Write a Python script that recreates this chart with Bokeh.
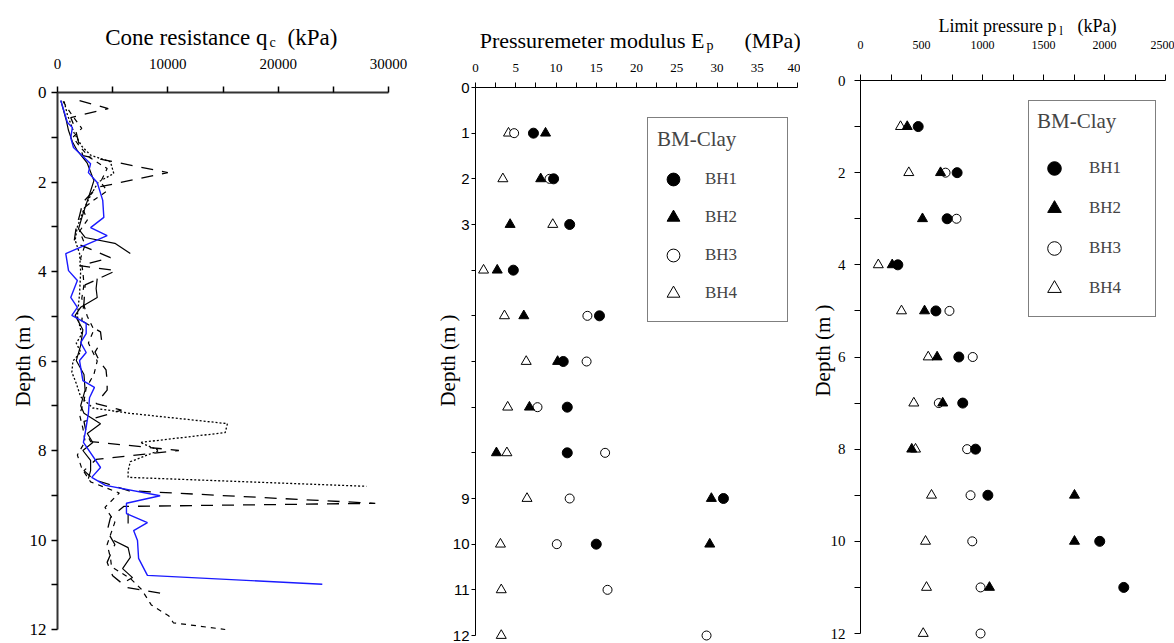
import math
from bokeh.plotting import figure
from bokeh.layouts import row
from bokeh.models import Range1d, FixedTicker, Label, Legend, LegendItem, ColumnDataSource
from bokeh.embed import file_html
from bokeh.resources import INLINE

NaN = float("nan")
SERIF = "Liberation Serif"
SANS = "Liberation Sans"
H = 643

# ---------------- Panel 1 data: CPT cone resistance profiles (kPa vs depth m) -------------
blue_depth = [0.18, 0.67, 0.78, 1.01, 1.23, 1.59, 1.79, 2.01, 2.41, 2.79, 3.02, 3.20, 3.60, 3.98,
              4.20, 4.58, 4.80, 4.98, 5.16, 5.39, 5.59, 5.81, 5.99, 6.44, 6.59, 6.82, 7.17, 7.55,
              7.82, 8.38, 8.60, 8.78, 9.01, 9.18, 9.41, 9.61, 9.79, 10.01, 10.41, 10.79, 10.99]
blue_qc = [300, 900, 1350, 1200, 1450, 3000, 2800, 3600, 4100, 4200, 3000, 4500, 750, 1000,
           1800, 1200, 1800, 1300, 2600, 2600, 2100, 2600, 2000, 2300, 3350, 2900, 2800, 2550,
           2350, 3900, 3100, 4350, 9300, 6250, 6250, 8150, 6900, 7250, 7350, 8150, 24000]

solid_depth = [0.18, 0.63, 0.85, 1.1, 1.3, 1.58, 1.97, 2.2, 2.5, 2.8, 3.05, 3.24, 3.37, 3.60, NaN,
               4.16, 4.38, 4.58, 4.80, 4.98, 5.3, 5.65, 5.99, 6.3, 6.65, 7.0, 7.17, 7.40, 7.62,
               7.82, 8.0, 8.22, 8.45, 8.63, NaN, 9.41, 9.63, NaN, 10.01, 10.17, 10.39, 10.64,
               10.84, 10.91]
solid_qc = [300, 800, 1000, 1350, 1800, 2700, 3300, 3000, 2600, 2200, 1900, 2500, 5200, 6600, NaN,
            3600, 3500, 3600, 2100, 1600, 2300, 2100, 1700, 2400, 2500, 2100, 2400, 3900, 2700,
            3200, 2300, 3000, 3000, 2800, NaN, 6400, 6400, NaN, 5100, 6400, 6600, 5900,
            6800, 6300]

longdash_depth = [0.18, 0.36, 0.56, 0.8, 1.1, 1.41, 1.79, 2.12, 2.45, 2.75, 3.0, 3.35, 3.69, 3.87,
                  3.98, 4.3, 4.7, 5.1, 5.35, 5.55, 5.8, 6.0, 6.2, 6.45, 6.65, 6.95, 7.1, 7.35,
                  7.6, 7.8, 8.0, 8.2, 8.45, 8.65, 8.9, 9.18, 9.25, 9.5, 9.8, 10.1, 10.5, 10.8,
                  11.06, 11.2]
longdash_qc = [2000, 4600, 1200, 1600, 1900, 2300, 10000, 3600, 2300, 2000, 1700, 1500, 4800, 2000,
               5300, 2500, 2400, 2200, 3900, 4000, 3400, 3800, 4400, 4500, 4500, 3500, 5800, 2400,
               2600, 3000, 11000, 3500, 2400, 3300, 6500, 28800, 6000, 4800, 4500, 5200, 4500, 5000,
               6300, 9600]

shortdash_depth = [0.2, 0.5, 0.8, 1.0, 1.2, 1.45, 1.7, 2.0, 2.2, 2.4, 2.6, 2.85, 3.1, 3.4, 3.7,
                   4.0, 4.3, 4.6, 5.0, 5.3, 5.6, 6.0, 6.3, 6.6, 6.9, 7.2, 7.5, 7.8, 8.1, 8.4,
                   8.7, 8.95, 9.27, 9.6, 10.1, 10.4, 10.6, 10.86, 11.1, 11.45, 11.7, 11.85, 12.0]
shortdash_qc = [500, 1300, 2200, 1400, 2000, 2900, 4500, 3900, 4500, 3300, 2300, 2700, 2000, 2500,
                2100, 2300, 2400, 2200, 2700, 3300, 2800, 3600, 3300, 2600, 2400, 2000, 2300,
                2500, 1800, 2200, 3000, 5600, 4300, 5200, 4500, 4800, 4900, 6600, 7600, 8500,
                10100, 10500, 15200]

dotted_depth = [0.2, 0.5, 0.9, 1.2, 1.4, 1.55, 1.81, 2.0, 2.3, 2.6, 3.0, 3.3, 3.6, 4.0, 4.5, 5.0,
                5.4, 5.6, 5.8, 6.0, 6.25, 6.5, 6.8, 7.05, 7.17, 7.4, 7.6, 7.82, 8.0, 8.25, 8.45,
                8.6, 8.8]
dotted_qc = [600, 900, 1500, 2200, 3000, 4800, 5100, 3700, 3000, 2400, 1800, 1600, 2000, 2100,
             2000, 1800, 2200, 1700, 2100, 1400, 1300, 1700, 2100, 3200, 6600, 15400, 15200,
             7500, 9200, 6600, 6400, 6400, 28000]

# ---------------- Panels 2 & 3 data: pressuremeter tests ------------------------------------
pm_depth = [1, 2, 3, 4, 5, 6, 7, 8, 9, 10, 11, 12]
boreholes = ["BH1", "BH2", "BH3", "BH4"]
Ep_BH1 = [7.2, 9.7, 11.7, 4.7, 15.4, 10.9, 11.4, 11.4, 30.8, 15.0, NaN, NaN]
Ep_BH2 = [8.7, 8.1, 4.3, 2.7, 6.0, 10.2, 6.7, 2.6, 29.3, 29.1, NaN, NaN]
Ep_BH3 = [4.8, 9.2, NaN, NaN, 13.9, 13.8, 7.7, 16.1, 11.7, 10.1, 16.4, 28.7]
Ep_BH4 = [4.1, 3.4, 9.6, 1.0, 3.6, 6.3, 4.0, 3.9, 6.4, 3.1, 3.2, 3.2]

pl_BH1 = [473, 792, 710, 306, 618, 806, 838, 943, 1044, 1961, 2158, NaN]
pl_BH2 = [383, 656, 508, 260, 525, 628, 674, 420, 1754, 1754, 1057, NaN]
pl_BH3 = [NaN, 697, 787, NaN, 729, 920, 642, 874, 902, 916, 984, 984]
pl_BH4 = [328, 396, NaN, 146, 336, 555, 437, 451, 582, 533, 541, 514]

qc_ticks = [0, 10000, 20000, 30000]
qc_minor = [5000, 15000, 25000]
ep_ticks = [0, 5, 10, 15, 20, 25, 30, 35, 40]
ep_minor = [2.5, 7.5, 12.5, 17.5, 22.5, 27.5, 32.5, 37.5]
pl_ticks = [0, 500, 1000, 1500, 2000, 2500]
pl_minor = [250, 750, 1250, 1750, 2250]
depth_ticks_even = [0, 2, 4, 6, 8, 10, 12]
depth_ticks_odd = [1, 3, 5, 7, 9, 11]
ep_depth_labeled = [0, 1, 2, 3, 9, 10, 11, 12]
ep_depth_unlabeled = [4, 5, 6, 7, 8]


class Panel:
    """A figure whose frame covers the whole canvas; axes are pinned at x=0 / depth=0."""

    def __init__(self, width, x0_px, x1_px, xmax, y0_px, y12_px):
        self.sx = xmax / (x1_px - x0_px)
        self.x0 = x0_px
        self.sy = 12.0 / (y12_px - y0_px)
        self.y0 = y0_px
        xr = Range1d(self.dx(0), self.dx(width))
        yr = Range1d(self.dy(H), self.dy(0))
        p = figure(width=width, height=H, x_range=xr, y_range=yr,
                   x_axis_location="above", output_backend="svg", toolbar_location=None,
                   min_border=0)
        p.outline_line_color = None
        p.grid.visible = False
        p.border_fill_color = "white"
        p.background_fill_color = "white"
        p.xaxis.fixed_location = 0
        p.yaxis.fixed_location = 0
        p.xaxis.bounds = (0, xmax)
        p.yaxis.bounds = (0, 12)
        for ax in (p.xaxis[0], p.yaxis[0]):
            ax.major_tick_in = 0
            ax.minor_tick_in = 0
            ax.axis_line_color = "black"
            ax.major_tick_line_color = "black"
            ax.minor_tick_line_color = "black"
            ax.major_label_text_color = "black"
        self.p = p

    def dx(self, px):
        return (px - self.x0) * self.sx

    def dy(self, py):
        return (py - self.y0) * self.sy

    def ylabel(self, cx, cy):
        self.p.add_layout(Label(x=self.dx(cx), y=self.dy(cy), text="Depth (m )", angle=math.pi / 2,
                                text_align="center", text_baseline="middle", text_font=SERIF,
                                text_font_size="21px", text_color="black"))

    def title(self, main, sub, unit, x_main, x_sub, x_unit, base, sub_base, size, sub_size):
        p = self.p
        p.add_layout(Label(x=self.dx(x_main), y=self.dy(base), text=main, text_align="right",
                           text_baseline="alphabetic", text_font=SERIF, text_font_size=size,
                           text_color="black"))
        p.add_layout(Label(x=self.dx(x_sub), y=self.dy(sub_base), text=sub, text_align="left",
                           text_baseline="alphabetic", text_font=SERIF, text_font_size=sub_size,
                           text_color="black"))
        p.add_layout(Label(x=self.dx(x_unit), y=self.dy(base), text=unit, text_align="left",
                           text_baseline="alphabetic", text_font=SERIF, text_font_size=size,
                           text_color="black"))


# ---------------- Panel 1 ----------------
P1 = Panel(421, 57, 388, 30000, 92, 629)
p1 = P1.p
p1.xaxis.ticker = FixedTicker(ticks=qc_ticks, minor_ticks=qc_minor)
p1.yaxis.ticker = FixedTicker(ticks=depth_ticks_even, minor_ticks=depth_ticks_odd)
for ax in (p1.xaxis[0], p1.yaxis[0]):
    ax.major_tick_out = 6
    ax.minor_tick_out = 6
    ax.axis_line_width = 2
    ax.major_tick_line_width = 1.5
    ax.minor_tick_line_width = 1.5
    ax.axis_line_color = "#333333"
    ax.major_label_text_font = SERIF
p1.xaxis.major_label_text_font_size = "15px"
p1.xaxis.major_label_standoff = 18
p1.yaxis.major_label_text_font_size = "17px"
p1.yaxis.major_label_standoff = 5

p1.line(shortdash_qc, shortdash_depth, line_color="black", line_width=1.2, line_dash="5 5")
p1.line(dotted_qc, dotted_depth, line_color="black", line_width=1.3, line_dash="2 2")
p1.line(longdash_qc, longdash_depth, line_color="black", line_width=1.3, line_dash="12 9")
p1.line(solid_qc, solid_depth, line_color="black", line_width=1.2)
p1.line(blue_qc, blue_depth, line_color="#1a1aff", line_width=1.4)

P1.title("Cone resistance q", "c", "(kPa)", 267, 269, 287, 37, 42, "23px", "14px")
P1.ylabel(22, 360)

# ---------------- Panel 2 ----------------
P2 = Panel(379, 54, 376, 40, 87, 635)
p2 = P2.p
p2.xaxis.ticker = FixedTicker(ticks=ep_ticks, minor_ticks=ep_minor)
p2.yaxis.ticker = FixedTicker(ticks=ep_depth_labeled, minor_ticks=ep_depth_unlabeled)
p2.xaxis.major_tick_out = 5
p2.xaxis.minor_tick_out = 5
p2.yaxis.major_tick_out = 4
p2.yaxis.minor_tick_out = 4
p2.xaxis.major_label_text_font = SERIF
p2.xaxis.major_label_text_font_size = "13px"
p2.xaxis.major_label_standoff = 11
p2.yaxis.major_label_text_font = SANS
p2.yaxis.major_label_text_font_size = "15px"
p2.yaxis.major_label_standoff = 2

P2.title("Pressuremeter modulus E", "p", "(MPa)", 283, 285, 323, 40, 45, "22px", "14px")
P2.ylabel(26, 360)

# ---------------- Panel 3 ----------------
P3 = Panel(374, 60, 365, 2500, 80, 633)
p3 = P3.p
p3.xaxis.ticker = FixedTicker(ticks=pl_ticks, minor_ticks=pl_minor)
p3.yaxis.ticker = FixedTicker(ticks=depth_ticks_even, minor_ticks=depth_ticks_odd)
for ax in (p3.xaxis[0], p3.yaxis[0]):
    ax.major_tick_out = 6
    ax.minor_tick_out = 6
    ax.major_label_text_font = SERIF
p3.xaxis.major_label_text_font_size = "12px"
p3.xaxis.major_label_standoff = 26
p3.yaxis.major_label_text_font_size = "15px"
p3.yaxis.major_label_standoff = 9

P3.title("Limit pressure p", "l", "(kPa)", 256, 259, 277, 25, 30, "18px", "12px")
P3.ylabel(22, 350)

# ---------------- scatter + legends ----------------
styles = {
    "BH1": dict(marker="circle", fill_color="black", line_color="black"),
    "BH2": dict(marker="triangle", fill_color="black", line_color="black"),
    "BH3": dict(marker="circle", fill_color="white", line_color="black"),
    "BH4": dict(marker="triangle", fill_color="white", line_color="black"),
}
sizes = {"BH1": 10, "BH2": 10, "BH3": 9, "BH4": 10}


def add_points(p, series, legend_loc, padding, glyph_w, glyph_h, standoff, label_w, title_standoff):
    rend = {}
    for bh in ["BH4", "BH3", "BH2", "BH1"]:
        src = ColumnDataSource(dict(x=series[bh], y=pm_depth))
        rend[bh] = p.scatter("x", "y", source=src, size=sizes[bh], line_width=1, **styles[bh])
    legend = Legend(items=[LegendItem(label=bh, renderers=[rend[bh]]) for bh in boreholes],
                    title="BM-Clay", location=legend_loc, orientation="vertical",
                    padding=padding, spacing=0, glyph_width=glyph_w, glyph_height=glyph_h,
                    label_standoff=standoff, label_width=label_w, label_height=20,
                    title_standoff=title_standoff, margin=0,
                    border_line_color="black", border_line_width=1.3,
                    background_fill_color="white", background_fill_alpha=1.0,
                    label_text_font=SERIF, label_text_font_size="17px",
                    title_text_font=SERIF, title_text_font_size="21px",
                    title_text_font_style="normal")
    p.add_layout(legend)


add_points(p2, {"BH1": Ep_BH1, "BH2": Ep_BH2, "BH3": Ep_BH3, "BH4": Ep_BH4},
           (226, 321), 9, 32, 38, 16, 73, 8)
add_points(p3, {"BH1": pl_BH1, "BH2": pl_BH2, "BH3": pl_BH3, "BH4": pl_BH4},
           (228, 326), 8, 34, 40, 18, 58, 14)

layout = row(p1, p2, p3, spacing=0)
open("out.html", "w").write(file_html(layout, INLINE))
